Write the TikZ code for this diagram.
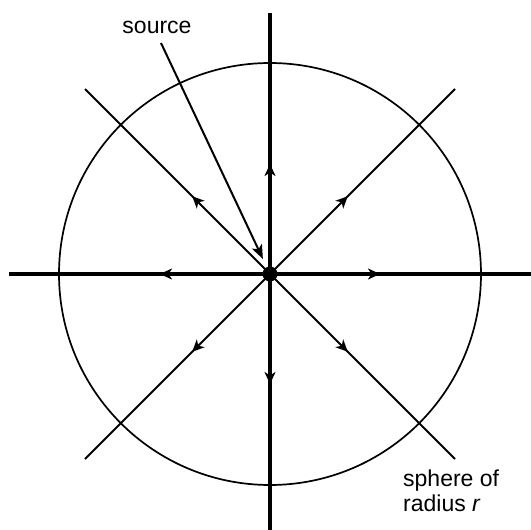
\documentclass[tikz,border=0pt]{standalone}
\usepackage{fontspec}
\setmainfont{Liberation Sans}
\usetikzlibrary{arrows.meta,decorations.markings}
\begin{document}
\begin{tikzpicture}[x=1pt,y=-1pt,
  ray/.style={postaction={decorate},decoration={markings,
     mark=at position 110pt with {\arrow{Stealth[length=12pt,width=11pt,inset=3.5pt]}}}},
  axisray/.style={ray,line width=3.3pt},
  diagray/.style={ray,line width=2pt},
  lbl/.style={font=\fontsize{23}{26}\selectfont,inner sep=0pt}]
\useasboundingbox (0,0) rectangle (531,530);
\node[circle,fill=black,minimum size=15pt,inner sep=0pt] (src) at (270,274) {};
\draw[line width=1.7pt] (src.center) circle[radius=211];
\coordinate (top) at (270,13);
\coordinate (bot) at (270,531);
\coordinate (lft) at (9,274);
\coordinate (rgt) at (531,274);
\coordinate (ul) at (85,89);
\coordinate (ur) at (455,89);
\coordinate (ll) at (85,459);
\coordinate (lr) at (455,459);
\draw[axisray] (src.center) -- (top);
\draw[axisray] (src.center) -- (bot);
\draw[axisray] (src.center) -- (lft);
\draw[axisray] (src.center) -- (rgt);
\draw[diagray] (src.center) -- (ul);
\draw[diagray] (src.center) -- (ur);
\draw[diagray] (src.center) -- (ll);
\draw[diagray] (src.center) -- (lr);
\node[lbl,anchor=base] (srclbl) at (157,33) {source};
\coordinate (srctail) at (161,43);
\draw[line width=2pt,-{Stealth[length=14pt,width=11pt,inset=3.5pt]},shorten >=9pt] (srctail) -- (src);
\node[lbl,anchor=base west,align=left] (sph) at (403,486) {sphere of};
\node[lbl,anchor=base west] (rad) at (403,511) {radius \textit{r}};
\end{tikzpicture}
\end{document}
